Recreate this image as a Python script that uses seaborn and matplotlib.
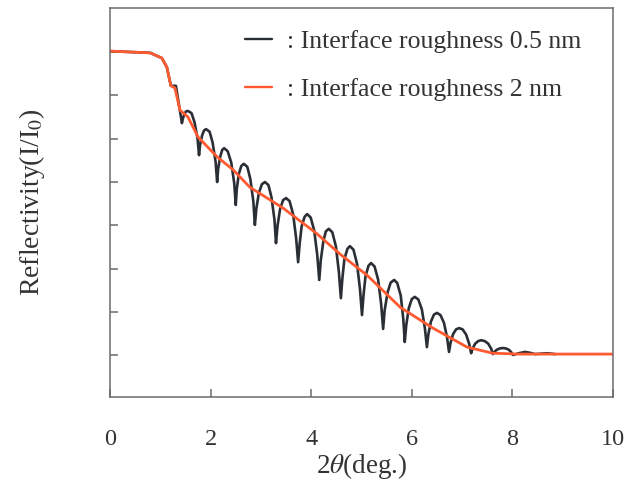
import matplotlib
matplotlib.use("Agg")
import matplotlib.pyplot as plt
import seaborn as sns
import pandas as pd

# ---- data (y in decades of reflectivity, arbitrary offset) ----
x_rough2 = [0.0, 0.80, 1.03, 1.13, 1.21, 1.29, 1.39, 1.55, 1.75, 2.13, 2.45, 2.78,
            3.44, 3.78, 4.10, 4.57, 5.11, 5.77, 6.42, 7.10, 7.61, 8.15, 10.0]
y_rough2 = [0.02, -0.02, -0.14, -0.35, -0.78, -0.83, -1.34, -1.50, -1.96, -2.42, -2.72, -3.12,
            -3.60, -3.90, -4.18, -4.66, -5.15, -5.89, -6.37, -6.81, -6.95, -6.97, -6.97]

x_rough05 = [0.0, 0.80, 1.03, 1.13, 1.21, 1.31, 1.43,
             1.45, 1.48, 1.51, 1.55, 1.62, 1.68, 1.74, 1.77,
             1.79, 1.83, 1.87, 1.91, 1.98, 2.04, 2.10, 2.13,
             2.15, 2.19, 2.23, 2.27, 2.34, 2.41, 2.47, 2.50,
             2.52, 2.56, 2.61, 2.66, 2.73, 2.79, 2.85, 2.88,
             2.91, 2.96, 3.02, 3.08, 3.15, 3.21, 3.27, 3.30,
             3.33, 3.38, 3.44, 3.50, 3.57, 3.64, 3.70, 3.74,
             3.77, 3.81, 3.87, 3.92, 3.99, 4.06, 4.12, 4.16,
             4.19, 4.24, 4.29, 4.35, 4.42, 4.49, 4.55, 4.59,
             4.62, 4.66, 4.72, 4.77, 4.84, 4.91, 4.97, 5.01,
             5.04, 5.08, 5.14, 5.19, 5.26, 5.33, 5.39, 5.43,
             5.46, 5.52, 5.58, 5.65, 5.71, 5.78, 5.83, 5.86,
             5.89, 5.94, 6.00, 6.06, 6.13, 6.20, 6.26, 6.30,
             6.33, 6.38, 6.44, 6.50, 6.57, 6.64, 6.70, 6.74,
             6.77, 6.82, 6.88, 6.94, 7.01, 7.08, 7.14, 7.18,
             7.21, 7.26, 7.32, 7.38, 7.45, 7.52, 7.58, 7.61,
             7.64, 7.69, 7.75, 7.81, 7.87, 7.93, 7.98, 8.01,
             8.13, 8.25, 8.35, 8.45, 8.57, 8.69, 8.77, 8.85]
y_rough05 = [0.02, -0.02, -0.14, -0.35, -0.78, -0.78, -1.64,
             -1.53, -1.43, -1.37, -1.36, -1.41, -1.62, -1.99, -2.38,
             -2.15, -1.93, -1.81, -1.78, -1.84, -2.09, -2.54, -3.00,
             -2.70, -2.42, -2.26, -2.22, -2.29, -2.55, -3.03, -3.53,
             -3.17, -2.82, -2.63, -2.58, -2.65, -2.93, -3.45, -3.99,
             -3.61, -3.25, -3.05, -3.00, -3.07, -3.35, -3.87, -4.41,
             -4.02, -3.63, -3.42, -3.37, -3.44, -3.74, -4.29, -4.85,
             -4.43, -4.02, -3.80, -3.74, -3.82, -4.12, -4.68, -5.26,
             -4.81, -4.38, -4.14, -4.08, -4.16, -4.48, -5.07, -5.68,
             -5.22, -4.78, -4.54, -4.48, -4.56, -4.88, -5.47, -6.07,
             -5.61, -5.17, -4.93, -4.87, -4.95, -5.25, -5.81, -6.39,
             -5.96, -5.54, -5.32, -5.26, -5.33, -5.62, -6.15, -6.69,
             -6.30, -5.91, -5.70, -5.65, -5.71, -5.94, -6.37, -6.81,
             -6.51, -6.22, -6.06, -6.02, -6.07, -6.25, -6.58, -6.92,
             -6.71, -6.51, -6.40, -6.37, -6.40, -6.52, -6.73, -6.95,
             -6.84, -6.73, -6.67, -6.65, -6.67, -6.73, -6.85, -6.97,
             -6.92, -6.87, -6.84, -6.83, -6.84, -6.87, -6.93, -6.99,
             -6.95, -6.92, -6.94, -6.97, -6.96, -6.95, -6.96, -6.97]

labels = [": Interface roughness 0.5 nm", ": Interface roughness 2 nm"]
x_ticks = [0, 2, 4, 6, 8, 10]
y_ticks = [-7, -6, -5, -4, -3, -2, -1, 0]

df = pd.concat([
    pd.DataFrame({"x": x_rough05, "y": y_rough05, "series": labels[0]}),
    pd.DataFrame({"x": x_rough2, "y": y_rough2, "series": labels[1]}),
], ignore_index=True)

sns.set_style("ticks")
plt.rcParams["font.family"] = ["Liberation Serif", "DejaVu Serif"]
plt.rcParams["mathtext.fontset"] = "stix"

fig = plt.figure(figsize=(6.27, 4.90), dpi=100)
ax = fig.add_axes([110 / 627, 1 - 397 / 490, 503 / 627, 389 / 490])

palette = {labels[0]: "#2a2e35", labels[1]: "#ff5a30"}
sns.lineplot(data=df, x="x", y="y", hue="series", palette=palette, sort=False,
             estimator=None, ax=ax, linewidth=1.9, legend=True)
for line in ax.get_lines():
    line.set_solid_joinstyle("round")
ax.get_lines()[1].set_linewidth(2.0)

ax.set_xlim(0, 10)
ax.set_ylim(-7.96, 1.015)
ax.set_xticks(x_ticks)
ax.set_xticklabels([str(t) for t in x_ticks])
ax.set_yticks(y_ticks)
ax.set_yticklabels([])

spine_col = "#6b6b6b"
for s in ax.spines.values():
    s.set_color(spine_col)
    s.set_linewidth(1.1)
    s.set_visible(True)
ax.tick_params(axis="both", direction="in", length=5.5, width=1.1, color=spine_col,
               labelsize=17.5, labelcolor="#333333")
ax.tick_params(axis="x", pad=23, top=False)
ax.tick_params(axis="y", left=True, right=False)

ax.set_xlabel(r"2$\it{\theta}$(deg.)", fontsize=19.5, color="#333333", labelpad=1)
ax.set_ylabel(r"Reflectivity(I/I$_\mathrm{0}$)", fontsize=20, color="#333333", labelpad=42)

leg = ax.legend(loc="upper left", bbox_to_anchor=(0.268, 0.944), frameon=False,
                fontsize=18.5, handlelength=1.05, handletextpad=0.58, labelspacing=1.0,
                borderpad=0, borderaxespad=0)
for t in leg.get_texts():
    t.set_color("#333333")
for h in leg.get_lines():
    h.set_linewidth(1.7)

fig.savefig("out.png", dpi=100)
